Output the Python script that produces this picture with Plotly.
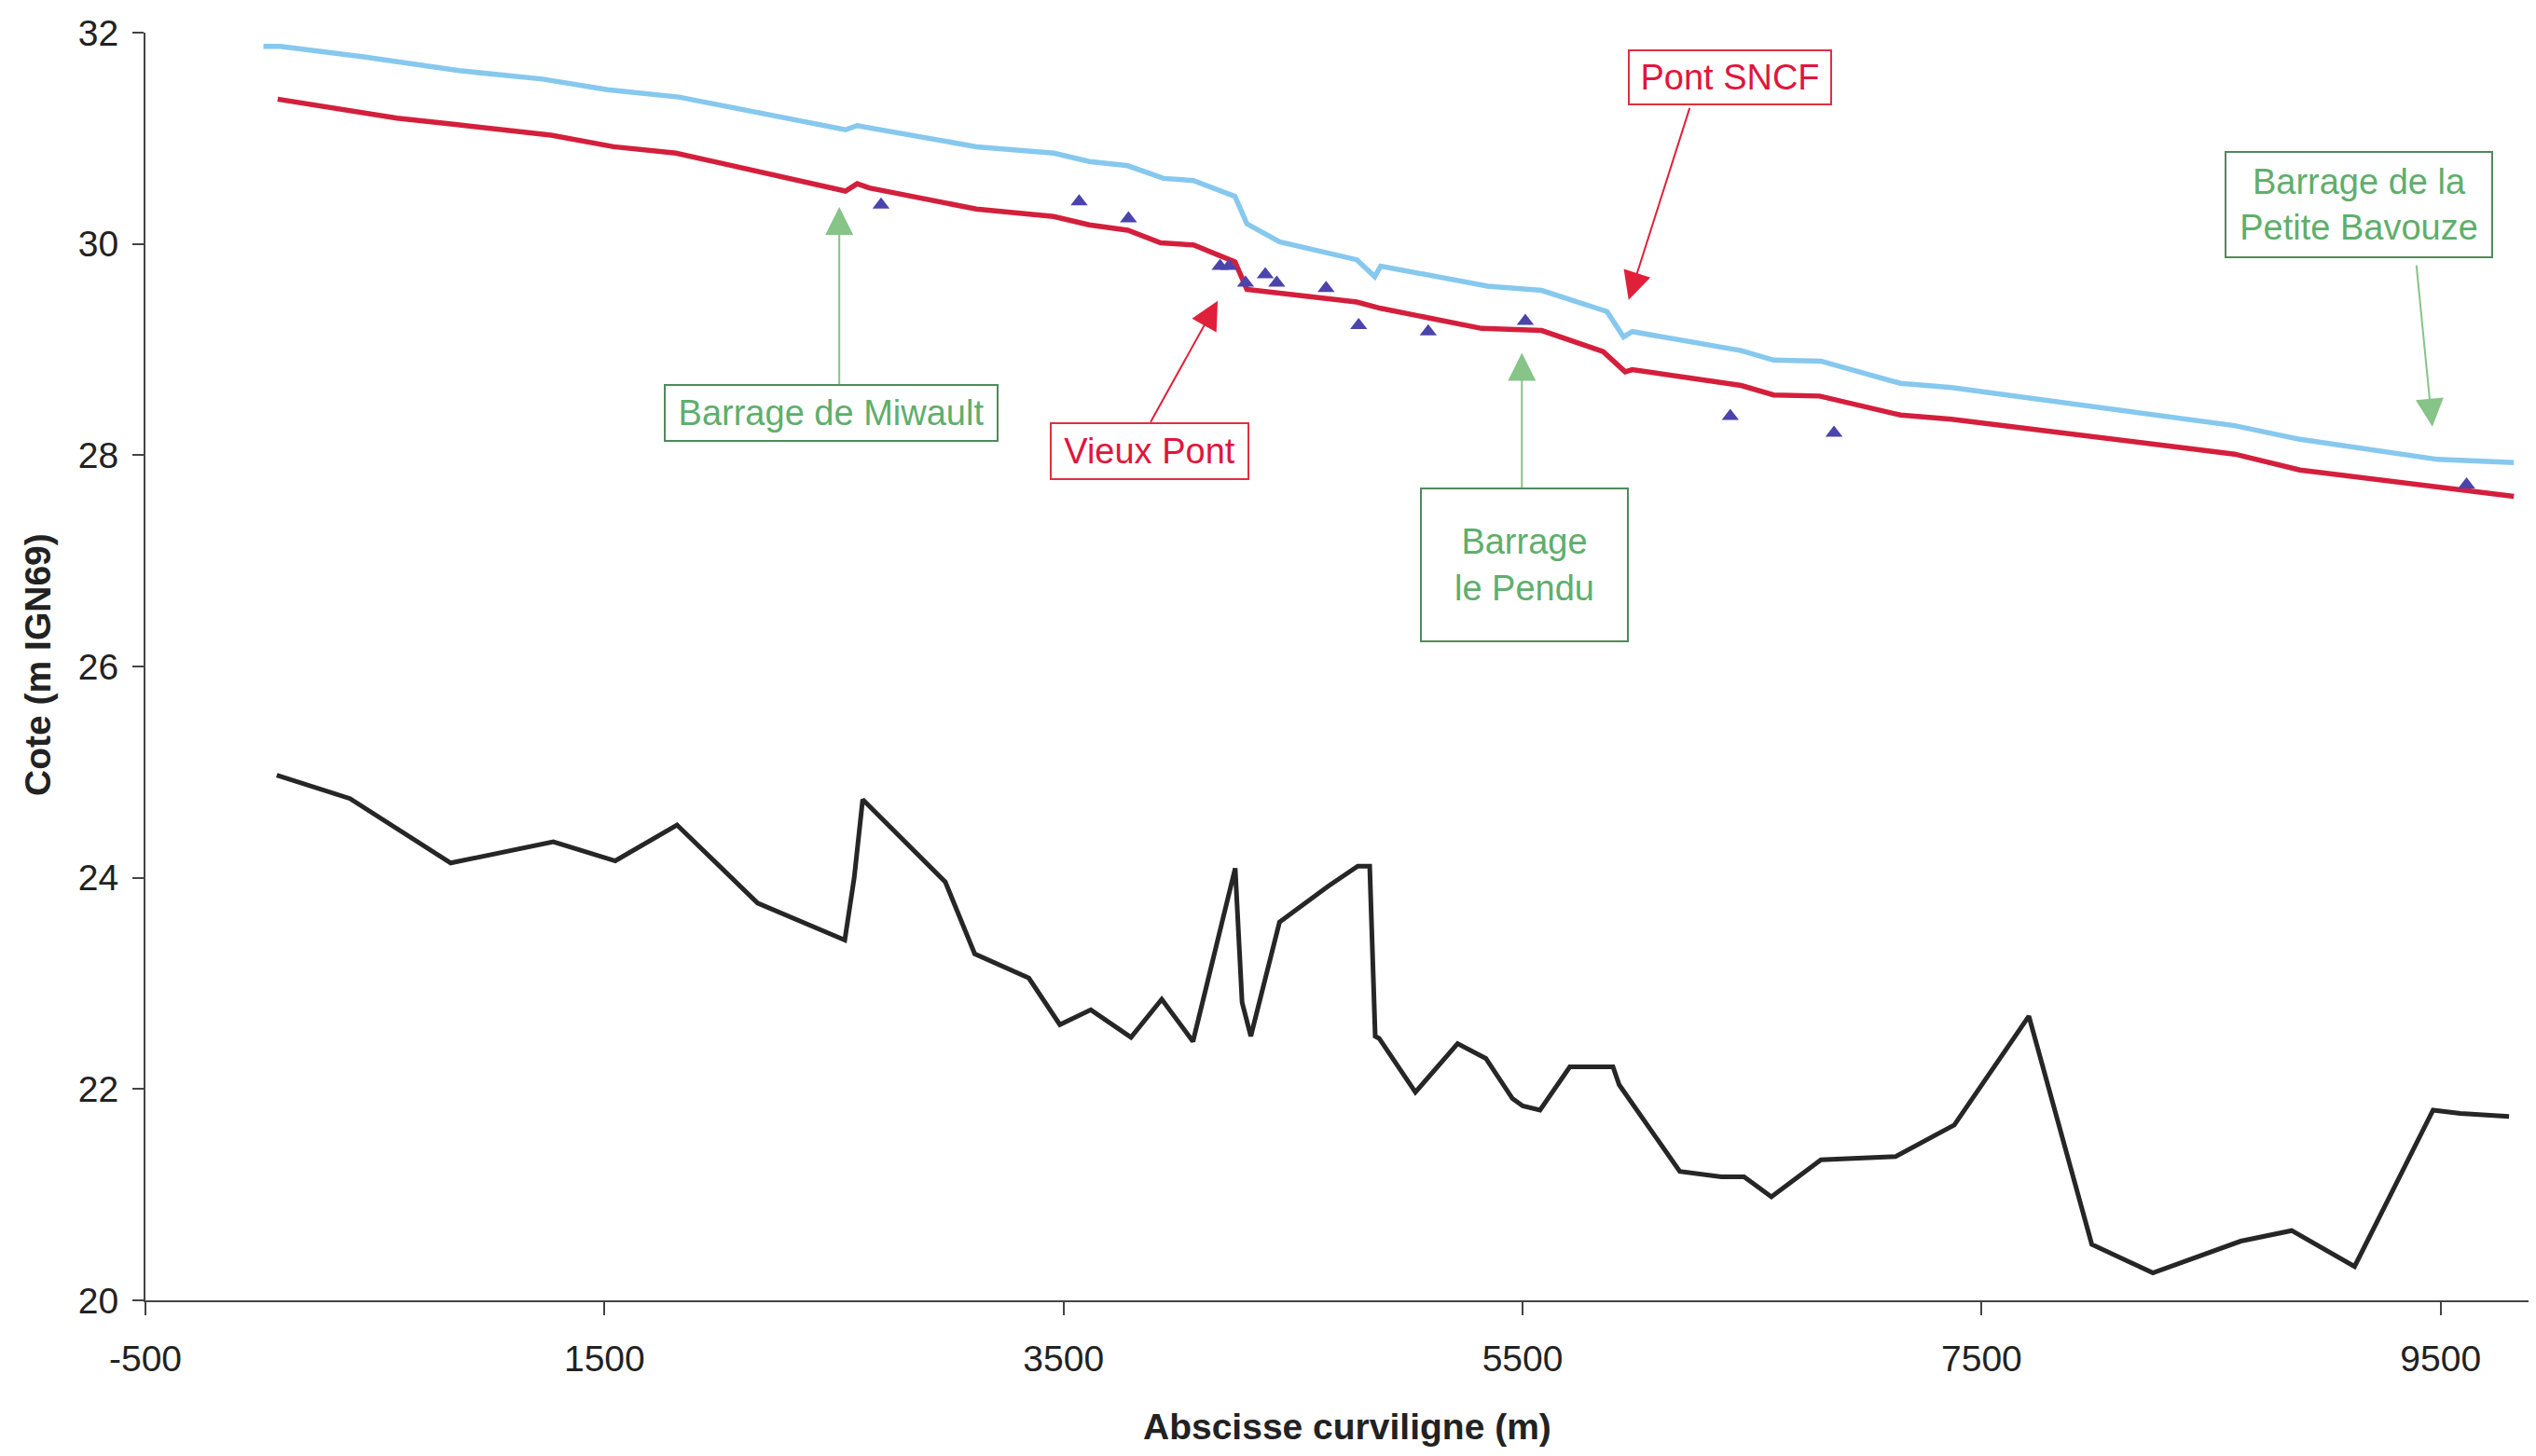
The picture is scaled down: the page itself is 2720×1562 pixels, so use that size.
import plotly.graph_objects as go

# Bed profile (fond du lit)
bed_x = [72, 391, 830, 1277, 1547, 1816, 2167, 2547, 2588, 2625, 2985, 3113, 3349, 3484,
         3619, 3794, 3928, 4064, 4248, 4278, 4316, 4441, 4653, 4782, 4834, 4858, 4875,
         5033, 5217, 5340, 5456, 5501, 5576, 5706, 5894, 5921, 6185, 6366, 6465, 6584,
         6800, 7125, 7381, 7706, 7980, 8246, 8629, 8851, 9125, 9467, 9586, 9798]
bed_z = [24.97, 24.75, 24.14, 24.34, 24.16, 24.50, 23.76, 23.41, 24.00, 24.74, 23.96, 23.28, 23.05, 22.61,
         22.75, 22.49, 22.85, 22.45, 24.09, 22.82, 22.50, 23.58, 23.92, 24.11, 24.11, 22.50, 22.48,
         21.97, 22.43, 22.29, 21.91, 21.84, 21.80, 22.21, 22.21, 22.04, 21.22, 21.17, 21.17, 20.98,
         21.33, 21.36, 21.66, 22.69, 20.53, 20.26, 20.56, 20.66, 20.32, 21.80, 21.77, 21.74]

# Lower water line (red)
red_x = [76, 596, 850, 1267, 1539, 1811, 2550, 2601, 2654, 3120, 3457, 3612, 3780, 3923, 4066,
         4222, 4247, 4299, 4494, 4778, 4882, 5322, 5583, 5851, 5947, 5978, 6452, 6594, 6794,
         7147, 7369, 8602, 8887, 9819]
red_z = [31.37, 31.19, 31.13, 31.03, 30.92, 30.86, 30.50, 30.57, 30.53, 30.33, 30.26, 30.18, 30.13, 30.01, 29.99,
         29.85, 29.83, 29.57, 29.52, 29.45, 29.39, 29.20, 29.18, 28.98, 28.79, 28.81, 28.66, 28.57, 28.56,
         28.38, 28.34, 28.01, 27.86, 27.61]

# Upper water line (light blue)
blue_x = [14, 88, 451, 867, 1231, 1448, 1513, 1824, 2550, 2601, 3120, 3457, 3612, 3780, 3936, 4066,
          4247, 4299, 4441, 4778, 4856, 4882, 5348, 5583, 5868, 5940, 5978, 6452, 6594, 6800,
          7147, 7369, 8602, 8887, 9487, 9819]
blue_z = [31.87, 31.87, 31.77, 31.64, 31.56, 31.48, 31.46, 31.39, 31.08, 31.12, 30.92, 30.86, 30.78, 30.74, 30.62, 30.60,
          30.45, 30.19, 30.02, 29.85, 29.69, 29.79, 29.60, 29.56, 29.36, 29.12, 29.17, 28.99, 28.90, 28.89,
          28.68, 28.64, 28.28, 28.15, 27.96, 27.93]

# Observed levels (triangles)
obs_x = [2705, 3568, 3783, 4182, 4221, 4293, 4379, 4429, 4644, 4786, 5089, 5512, 6405, 6857, 9613]
obs_z = [30.37, 30.40, 30.24, 29.79, 29.79, 29.63, 29.71, 29.63, 29.58, 29.23, 29.17, 29.27, 28.37, 28.21, 27.72]

x_ticks = [-500, 1500, 3500, 5500, 7500, 9500]
y_ticks = [20, 22, 24, 26, 28, 30, 32]

# Labels: text, box centre (x, z), box size, arrow tail (x, z), arrow tip (x, z), kind
label_text = ["Barrage de Miwault", "Vieux Pont", "Barrage<br>le Pendu", "Pont SNCF",
              "Barrage de la<br>Petite Bavouze"]
label_x = [2488, 3876, 5508, 6403, 9145]
label_z = [28.40, 28.04, 26.96, 31.58, 30.37]
label_w = [357, 212, 222, 217, 286]
label_h = [60, 60, 164, 58, 113]
tail_x = [2523, 3876, 5497, 6230, 9394]
tail_z = [28.66, 28.30, 27.68, 31.30, 29.81]
tip_x = [2523, 4172, 5497, 5962, 9464]
tip_z = [30.35, 29.46, 28.97, 29.47, 28.27]
label_kind = ["barrage", "pont", "barrage", "pont", "barrage"]

FONT = "Liberation Sans, Arial, sans-serif"
styles = {
    "barrage": dict(text="#5fae6c", border="#4f8a5c", arrow="#86c488"),
    "pont": dict(text="#e0163c", border="#e0303c", arrow="#e0203a"),
}

fig = go.Figure()
fig.add_trace(go.Scatter(x=blue_x, y=blue_z, mode="lines",
                         line=dict(color="#86c8ee", width=5.5), showlegend=False))
fig.add_trace(go.Scatter(x=red_x, y=red_z, mode="lines",
                         line=dict(color="#d41f3c", width=5.5), showlegend=False))
fig.add_trace(go.Scatter(x=bed_x, y=bed_z, mode="lines",
                         line=dict(color="#262626", width=5), showlegend=False))
fig.add_trace(go.Scatter(x=obs_x, y=obs_z, mode="markers",
                         marker=dict(symbol="triangle-up", size=16, color="#4b44aa"),
                         showlegend=False))

annotations = []
for t, bx, bz, w, h, tx, tz, px, pz, k in zip(label_text, label_x, label_z, label_w, label_h,
                                              tail_x, tail_z, tip_x, tip_z, label_kind):
    s = styles[k]
    annotations.append(dict(x=bx, y=bz, xref="x", yref="y", text=t, showarrow=False,
                            xanchor="center", yanchor="middle",
                            font=dict(family=FONT, size=38, color=s["text"]),
                            bordercolor=s["border"], borderwidth=2, bgcolor="white",
                            width=w - 4, height=h - 4, align="center", valign="middle"))
    annotations.append(dict(x=px, y=pz, xref="x", yref="y", ax=tx, ay=tz, axref="x", ayref="y",
                            text="", showarrow=True, arrowhead=2, arrowsize=3, arrowwidth=2,
                            arrowcolor=s["arrow"], standoff=0, startstandoff=0))

annotations.append(dict(x=0.5043, y=-0.0993, xref="paper", yref="paper",
                        xanchor="center", yanchor="middle",
                        text="<b>Abscisse curviligne (m)</b>", showarrow=False,
                        font=dict(family=FONT, size=39, color="#222")))
annotations.append(dict(x=-0.045, y=0.5015, xref="paper", yref="paper",
                        xanchor="center", yanchor="middle",
                        text="<b>Cote (m IGN69)</b>", showarrow=False, textangle=-90,
                        font=dict(family=FONT, size=39, color="#222")))

fig.update_layout(
    width=2704, height=1546,
    margin=dict(l=148, r=0, t=27, b=159),
    paper_bgcolor="white", plot_bgcolor="white",
    annotations=annotations,
    xaxis=dict(range=[-500, 9883], tickvals=x_ticks, ticktext=[str(v) for v in x_ticks],
               showgrid=False, zeroline=False, showline=True, linecolor="#444", linewidth=2,
               ticks="outside", ticklen=14, tickwidth=2, tickcolor="#444",
               tickfont=dict(family=FONT, size=39, color="#222"), ticklabelstandoff=13),
    yaxis=dict(range=[20, 32], tickvals=y_ticks, showgrid=False, zeroline=False,
               showline=True, linecolor="#444", linewidth=2,
               ticks="outside", ticklen=12, tickwidth=2, tickcolor="#444",
               tickfont=dict(family=FONT, size=39, color="#222"), ticklabelstandoff=7),
)

fig.write_html("out.html")
